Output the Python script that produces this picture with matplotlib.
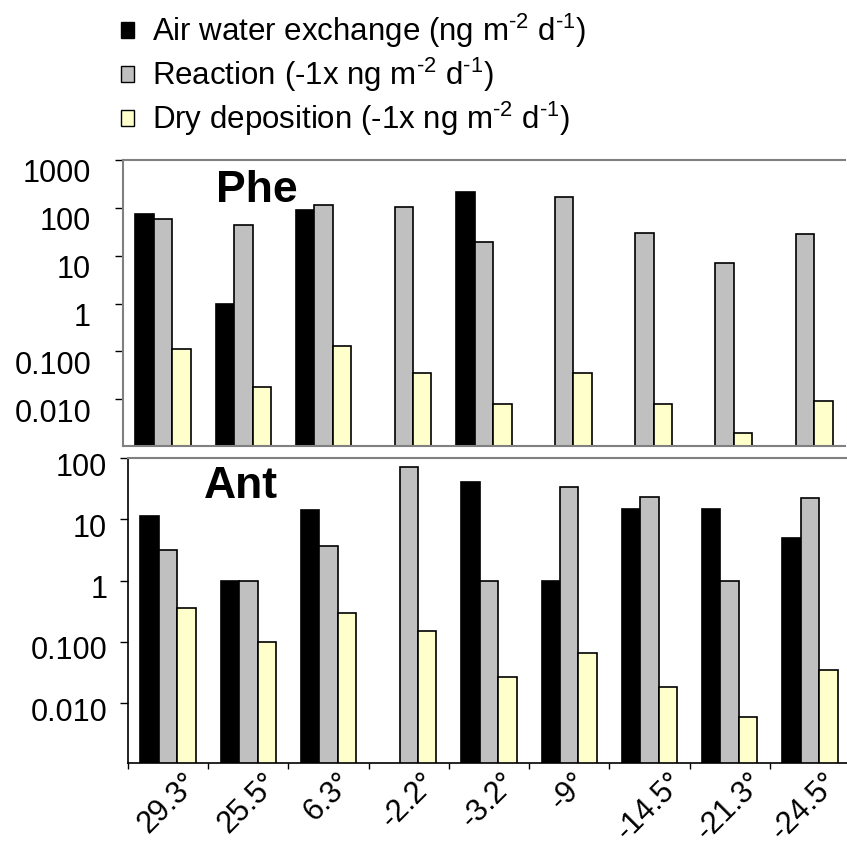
import numpy as np
import matplotlib
matplotlib.use("Agg")
import matplotlib.pyplot as plt
from matplotlib.patches import Patch
from matplotlib.transforms import ScaledTranslation

plt.rcParams['font.family'] = ['Liberation Sans', 'DejaVu Sans']
plt.rcParams['mathtext.fontset'] = 'custom'
plt.rcParams['mathtext.rm'] = 'Liberation Sans'
plt.rcParams['mathtext.it'] = 'Liberation Sans:italic'

# latitude of each station
stations = ["29.3°", "25.5°", "6.3°", "-2.2°", "-3.2°", "-9°", "-14.5°", "-21.3°", "-24.5°"]

# Phe fluxes (nan = no bar)
phe_airwater = [75, 1.0, 90, np.nan, 215, np.nan, np.nan, np.nan, np.nan]
phe_reaction = [59, 44, 115, 105, 19.6, 170, 30, 7.1, 29]
phe_drydep = [0.11, 0.018, 0.13, 0.036, 0.008, 0.036, 0.008, 0.002, 0.0091]

# Ant fluxes
ant_airwater = [11.2, 1.0, 14, np.nan, 40, 1.0, 14.5, 14.5, 4.9]
ant_reaction = [3.1, 1.0, 3.7, 71, 1.0, 33, 23, 1.0, 22]
ant_drydep = [0.36, 0.098, 0.30, 0.15, 0.027, 0.066, 0.018, 0.0059, 0.035]

series_names = [r"Air water exchange (ng m$^{\text{-2}}$ d$^{\text{-1}}$)",
                r"Reaction (-1x ng m$^{\text{-2}}$ d$^{\text{-1}}$)",
                r"Dry deposition (-1x ng m$^{\text{-2}}$ d$^{\text{-1}}$)"]
colors = ["black", "#c0c0c0", "#ffffcc"]

phe_ticks = [0.01, 0.1, 1, 10, 100, 1000]
ant_ticks = [0.01, 0.1, 1, 10, 100]
tick_text = {0.01: "0.010", 0.1: "0.100", 1: "1", 10: "10", 100: "100", 1000: "1000"}

W, H = 847, 856
fig = plt.figure(figsize=(W / 100, H / 100), dpi=100)
ax1 = fig.add_axes([123 / W, 1 - 446 / H, 722 / W, (446 - 160) / H])
ax2 = fig.add_axes([128 / W, 1 - 763 / H, 722 / W, (763 - 458) / H])

x = np.arange(len(stations))
bw = 0.23


def draw(ax, data, ticks, ylim, pad, shift):
    for i, vals in enumerate(data):
        ax.bar(x + (i - 1) * bw, vals, bw, color=colors[i], edgecolor="black", linewidth=1.2)
    ax.set_yscale("log")
    ax.set_ylim(*ylim)
    ax.set_xlim(-0.5, len(stations) - 0.5)
    ax.set_yticks(ticks)
    ax.set_yticklabels([tick_text[t] for t in ticks])
    ax.yaxis.set_minor_locator(matplotlib.ticker.NullLocator())
    ax.tick_params(axis="y", labelsize=22, length=6, width=1, pad=pad, direction="out")
    for lab in ax.get_yticklabels():
        lab.set_transform(lab.get_transform() + ScaledTranslation(0, -shift / 100, fig.dpi_scale_trans))
    ax.spines["right"].set_visible(False)


draw(ax1, [phe_airwater, phe_reaction, phe_drydep], phe_ticks, (0.00105, 1000), 17, 11)
draw(ax2, [ant_airwater, ant_reaction, ant_drydep], ant_ticks, (0.00105, 100), 9, 6)

for s in ["top", "bottom", "left"]:
    ax1.spines[s].set_color("#808080")
    ax1.spines[s].set_linewidth(1.5)
ax2.spines["top"].set_color("#808080")
ax2.spines["top"].set_linewidth(1.5)
ax2.spines["left"].set_linewidth(1.2)
ax2.spines["bottom"].set_linewidth(1.2)

ax1.set_xticks([])
ax2.set_xticks(x)
ax2.set_xticklabels(stations, rotation=45, ha="center", fontsize=22)
ax2.set_xticks(np.arange(-0.5, len(stations)), minor=True)
ax2.tick_params(axis="x", which="major", length=0, pad=3)
ax2.tick_params(axis="x", which="minor", length=4.5, width=1)
# last label sits at the figure edge, nudge it in a bit
last = ax2.get_xticklabels()[-1]
last.set_transform(last.get_transform() + ScaledTranslation(-5 / 100, 0, fig.dpi_scale_trans))

ax1.text(257 / W, 1 - 190 / H, "Phe", transform=fig.transFigure, fontsize=32,
         fontweight="bold", ha="center", va="center")
ax2.text(241 / W, 1 - 487 / H, "Ant", transform=fig.transFigure, fontsize=32,
         fontweight="bold", ha="center", va="center")

handles = [Patch(facecolor=c, edgecolor="black", linewidth=1) for c in colors]
fig.legend(handles, series_names, loc="upper left", bbox_to_anchor=(121 / W, 1 - 12 / H),
           frameon=False, fontsize=22.5, handlelength=0.4, handleheight=0.4,
           handletextpad=0.6, labelspacing=0.18, borderpad=0, borderaxespad=0)

fig.savefig("out.png", dpi=100)
